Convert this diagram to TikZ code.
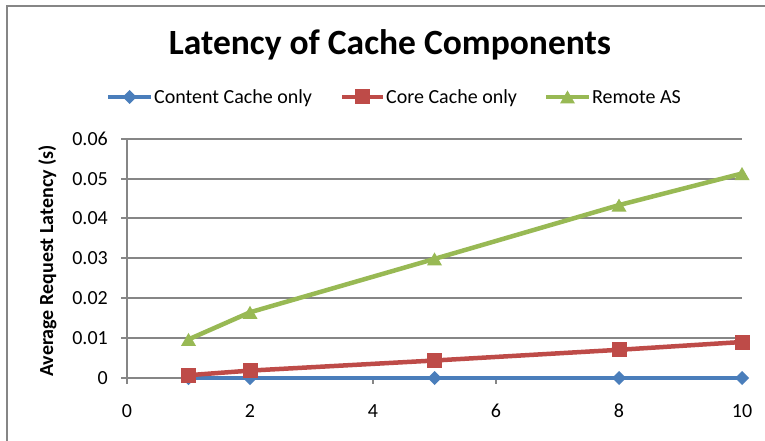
\documentclass[tikz,border=0pt]{standalone}
\usepackage{fontspec}
\setmainfont{Carlito}
\definecolor{sblue}{HTML}{4A7EBB}
\definecolor{sred}{HTML}{BE4B48}
\definecolor{sgreen}{HTML}{98B954}
\definecolor{gridc}{HTML}{868686}
\tikzset{
  gridline/.style={draw=gridc, line width=1.4pt},
  series/.style={line width=4.5pt, line join=round, line cap=round},
  ticklab/.style={font=\fontsize{20}{24}\selectfont, inner sep=0pt},
  legtext/.style={font=\fontsize{20}{24}\selectfont, inner sep=0pt, anchor=base west},
  dia/.pic={\fill[sblue] (-7,0)--(0,-7)--(7,0)--(0,7)--cycle;},
  sq/.pic={\fill[sred] (-7.5,-7.5) rectangle (7.5,7.5);},
  tri/.pic={\fill[sgreen] (-7.5,6.5)--(7.5,6.5)--(0,-6.5)--cycle;}
}
\begin{document}
\begin{tikzpicture}[x=1pt, y=-1pt]
\useasboundingbox (0,0) rectangle (765,441);
\fill[white] (0,0) rectangle (765,441);
% chart frame
\draw[draw=gridc, line width=2pt] (7,441) -- (7,6) -- (766,6);
% title
\node[font=\fontsize{35.5}{40}\selectfont\bfseries, inner sep=0pt, anchor=base] (title) at (390,55) {Latency of Cache Components};
% legend
\coordinate (l1a) at (108,97); \coordinate (l1b) at (151,97);
\draw[sblue, line width=4.5pt] (l1a) -- (l1b);
\pic at (129.5,97) {dia};
\node[legtext] (leg1) at (154,104) {Content Cache only};
\coordinate (l2a) at (342,97); \coordinate (l2b) at (383,97);
\draw[sred, line width=4.5pt] (l2a) -- (l2b);
\pic at (362.5,97) {sq};
\node[legtext] (leg2) at (386,104) {Core Cache only};
\coordinate (l3a) at (546,97); \coordinate (l3b) at (589,97);
\draw[sgreen, line width=4.5pt] (l3a) -- (l3b);
\pic at (567.5,97) {tri};
\node[legtext] (leg3) at (592,104) {Remote AS};
% gridlines and y labels
\foreach \v/\lab [count=\i] in {139/0.06,179/0.05,218/0.04,258/0.03,298/0.02,338/0.01}{
  \draw[gridline] (121,\v) -- (742,\v);
  \node[ticklab, anchor=east] (yl\i) at (108,\v) {\lab};
}
\node[ticklab, anchor=east] (yl0) at (108,378) {0};
% axes
\draw[gridline] (127,139) -- (127,384);
\draw[gridline] (121,378) -- (742,378);
\foreach \v/\lab in {127/0,250/2,373/4,496/6,619/8,742/10}{
  \draw[gridline] (\v,378) -- (\v,384);
  \node[ticklab, anchor=base] (xl\lab) at (\v,417) {\lab};
}
% y axis title
\node[font=\fontsize{20}{24}\selectfont\bfseries, inner sep=0pt, anchor=base, rotate=90] (ytitle) at (53,261) {Average Request Latency (s)};
% data coordinates
\coordinate (b1) at (188.5,378); \coordinate (b2) at (250,378); \coordinate (b5) at (434.5,378);
\coordinate (b8) at (619,378); \coordinate (b10) at (742,378);
\coordinate (r1) at (188.5,375.2); \coordinate (r2) at (250,370.6); \coordinate (r5) at (434.5,360.5);
\coordinate (r8) at (619,349.8); \coordinate (r10) at (742,342);
\coordinate (g1) at (188.5,339.4); \coordinate (g2) at (250,312.3); \coordinate (g5) at (434.5,258.9);
\coordinate (g8) at (619,205.1); \coordinate (g10) at (742,173.5);
% series
\draw[series, sblue] (b1) -- (b2) -- (b5) -- (b8) -- (b10);
\foreach \p in {b1,b2,b5,b8,b10} \pic at (\p) {dia};
\draw[series, sred] (r1) -- (r2) -- (r5) -- (r8) -- (r10);
\foreach \p in {r1,r2,r5,r8,r10} \pic at (\p) {sq};
\draw[series, sgreen] (g1) -- (g2) -- (g5) -- (g8) -- (g10);
\foreach \p in {g1,g2,g5,g8,g10} \pic at (\p) {tri};
\end{tikzpicture}
\end{document}
